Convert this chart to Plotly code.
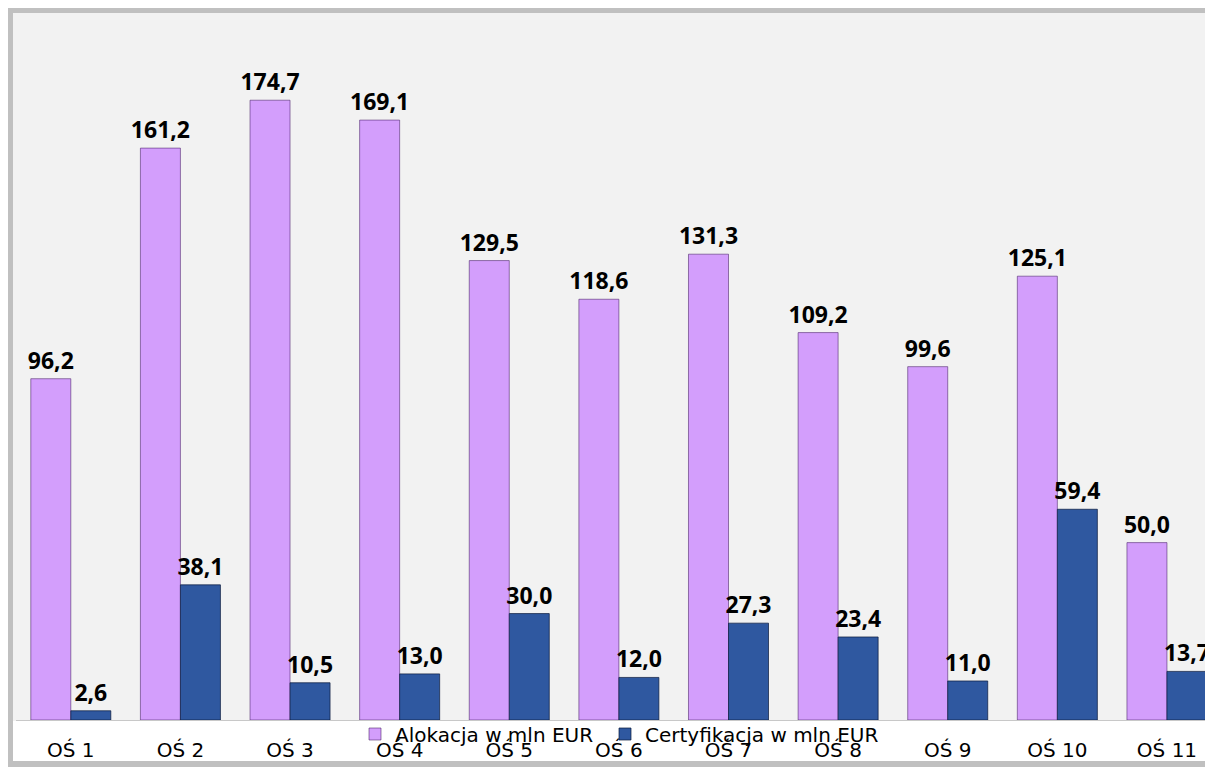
import plotly.graph_objects as go

categories = ["OŚ 1", "OŚ 2", "OŚ 3", "OŚ 4", "OŚ 5", "OŚ 6", "OŚ 7", "OŚ 8", "OŚ 9", "OŚ 10", "OŚ 11"]
alokacja = [96.2, 161.2, 174.7, 169.1, 129.5, 118.6, 131.3, 109.2, 99.6, 125.1, 50.0]
certyfikacja = [2.6, 38.1, 10.5, 13.0, 30.0, 12.0, 27.3, 23.4, 11.0, 59.4, 13.7]
series_names = ["Alokacja w mln EUR", "Certyfikacja w mln EUR"]

W, H = 1213, 767
OFF = 8  # page body margin
FONT = "'Open Sans', Lato, sans-serif"
FONT_WIDE = "'DejaVu Sans', 'Open Sans', sans-serif"

label_font = dict(family=FONT, size=23, color="#000000", weight="bold")

fig = go.Figure()
fig.add_trace(go.Bar(
    x=categories, y=alokacja, name=series_names[0], legend="legend",
    marker=dict(color="#d39efc", line=dict(color="rgba(70,30,100,0.55)", width=1)),
    texttemplate="%{y:.1f}", textposition="outside", constraintext="none",
    textfont=label_font, cliponaxis=True,
))
fig.add_trace(go.Bar(
    x=categories, y=certyfikacja, name=series_names[1], legend="legend2",
    marker=dict(color="#2f58a0", line=dict(color="rgba(10,25,60,0.7)", width=1)),
    texttemplate="%{y:.1f}", textposition="outside", constraintext="none",
    textfont=label_font, cliponaxis=True,
))

def px(x):
    # page x -> paper fraction
    return (x - OFF) / W

def py(y):
    # page y -> paper fraction
    return 1 - (y - OFF) / H

shapes = [
    dict(type="rect", xref="paper", yref="paper", x0=px(5), x1=1.02, y0=-0.02, y1=py(8),
         fillcolor="#c0c0c0", line=dict(width=0), layer="below"),
    dict(type="rect", xref="paper", yref="paper", x0=px(13), x1=1.02, y0=py(761), y1=py(13),
         fillcolor="#ffffff", line=dict(width=0), layer="below"),
    dict(type="rect", xref="paper", yref="paper", x0=px(13), x1=1.02, y0=py(721), y1=py(13),
         fillcolor="#f2f2f2", line=dict(width=0), layer="below"),
]

legend_style = dict(
    orientation="h", yanchor="middle", xanchor="left", y=py(734),
    bgcolor="rgba(0,0,0,0)", font=dict(family=FONT_WIDE, size=20, color="#000000"),
    itemwidth=30,
)

fig.update_layout(
    width=W, height=H,
    margin=dict(l=0, r=0, t=0, b=0),
    paper_bgcolor="#ffffff",
    plot_bgcolor="rgba(0,0,0,0)",
    separators=", ",
    barmode="group",
    bargap=0.27,
    bargroupgap=0.0,
    font=dict(family=FONT, color="#000000"),
    shapes=shapes,
    showlegend=True,
    legend=dict(x=px(355), **legend_style),
    legend2=dict(x=px(605), **legend_style),
    xaxis=dict(
        domain=[px(16), px(16) + 1197 / W], range=[-0.5, 10.42], type="category",
        showgrid=False, zeroline=False, showline=True, linecolor="#c8c8c8", linewidth=1,
        ticks="", tickfont=dict(family=FONT_WIDE, size=20, color="#000000"),
        ticklabelstandoff=12, fixedrange=True,
    ),
    yaxis=dict(
        domain=[py(720), py(14)], range=[0, 199],
        showgrid=False, zeroline=False, showline=False, showticklabels=False, ticks="",
        fixedrange=True,
    ),
)

fig.write_html("out.html")
